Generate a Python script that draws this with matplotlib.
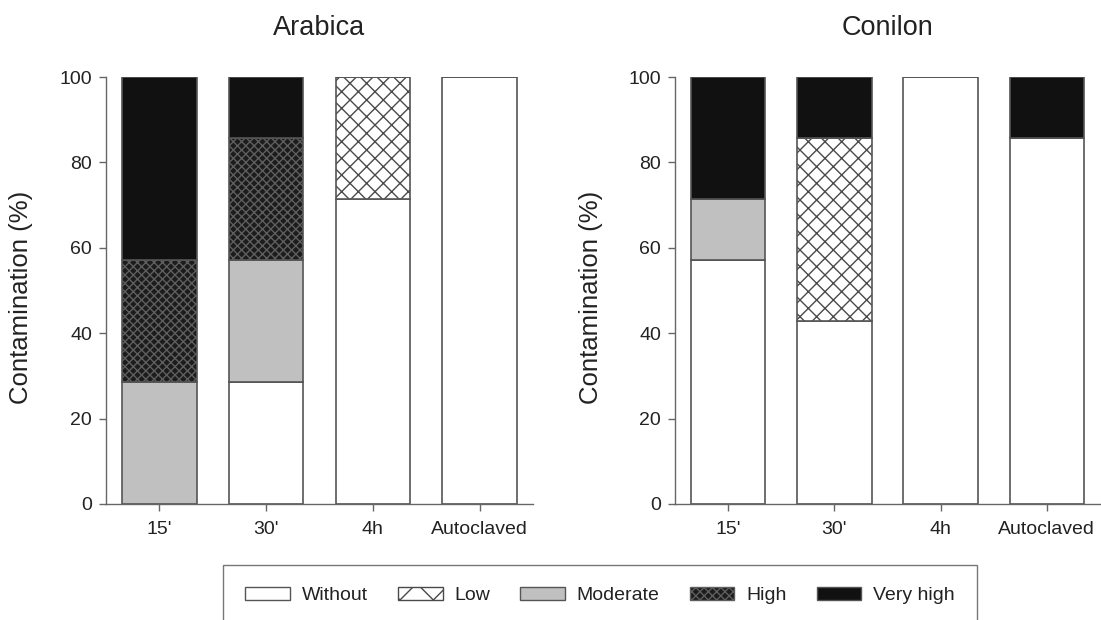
import matplotlib
matplotlib.use("Agg")
import matplotlib.pyplot as plt
from matplotlib.patches import Patch
import numpy as np

plt.rcParams['font.family'] = ['Liberation Sans', 'DejaVu Sans']
plt.rcParams['hatch.linewidth'] = 1.0

# datos (porcentaje de muestras por nivel de contaminacion)
categorias = ["15'", "30'", "4h", "Autoclaved"]
niveles = ["Without", "Low", "Moderate", "High", "Very high"]

arabica_without = [0, 28.6, 71.4, 100]
arabica_low = [0, 0, 28.6, 0]
arabica_moderate = [28.6, 28.6, 0, 0]
arabica_high = [28.6, 28.6, 0, 0]
arabica_very_high = [42.8, 14.2, 0, 0]

conilon_without = [57.1, 42.9, 100, 85.7]
conilon_low = [0, 42.9, 0, 0]
conilon_moderate = [14.3, 0, 0, 0]
conilon_high = [0, 0, 0, 0]
conilon_very_high = [28.6, 14.2, 0, 14.3]

# estilo de cada nivel: (color relleno, hatch, color hatch)
estilos = {
    "Without": ("white", "", None),
    "Low": ("white", "xx", "#4a4a4a"),
    "Moderate": ("#c0c0c0", "", None),
    "High": ("#1c1c1c", "xxxx", "#5e5e5e"),
    "Very high": ("#111111", "", None),
}
borde = "#555555"


def barras(ax, series, titulo):
    x = np.arange(len(categorias))
    base = np.zeros(len(categorias))
    for nivel, vals in zip(niveles, series):
        vals = np.array(vals, dtype=float)
        fc, hatch, hc = estilos[nivel]
        if hatch:
            ax.bar(x, vals, 0.7, bottom=base, color=fc, edgecolor=hc,
                   hatch=hatch, linewidth=0)
            ax.bar(x, vals, 0.7, bottom=base, fill=False, edgecolor=borde,
                   linewidth=1.2)
        else:
            ax.bar(x, vals, 0.7, bottom=base, color=fc, edgecolor=borde,
                   linewidth=1.2)
        base += vals
    ax.set_xlim(-0.5, 3.5)
    ax.set_ylim(0, 100)
    ax.set_xticks(x)
    ax.set_xticklabels(categorias)
    ax.set_yticks([0, 20, 40, 60, 80, 100])
    ax.spines['top'].set_visible(False)
    ax.spines['right'].set_visible(False)
    for s in ['left', 'bottom']:
        ax.spines[s].set_color('#666666')
        ax.spines[s].set_linewidth(1.0)
    ax.tick_params(axis='both', direction='out', length=5, width=1.0,
                   color='#666666', labelsize=14, labelcolor='#222222', pad=5)
    ax.tick_params(axis='x', pad=7)
    ax.set_ylabel("Contamination (%)", fontsize=18.5, color='#222222')
    ax.yaxis.set_label_coords(-0.17, 0.485)
    ax.text(0.5, 1.115, titulo, transform=ax.transAxes, ha='center',
            va='center', fontsize=19.5, color='#222222')


fig = plt.figure(figsize=(11.01, 6.2), dpi=100)
ax1 = fig.add_axes([0.0963, 0.1871, 0.3878, 0.6887])
ax2 = fig.add_axes([0.6131, 0.1871, 0.3860, 0.6887])

barras(ax1, [arabica_without, arabica_low, arabica_moderate, arabica_high,
             arabica_very_high], "Arabica")
barras(ax2, [conilon_without, conilon_low, conilon_moderate, conilon_high,
             conilon_very_high], "Conilon")

handles = []
for nivel in niveles:
    fc, hatch, hc = estilos[nivel]
    if nivel == "Low":
        hatch = "x"
    if hatch:
        handles.append(Patch(facecolor=fc, edgecolor=hc, hatch=hatch,
                             linewidth=1.0, label=nivel))
    else:
        handles.append(Patch(facecolor=fc, edgecolor=borde, linewidth=1.0,
                             label=nivel))

leg = fig.legend(handles=handles, loc='upper center', ncol=5,
                 bbox_to_anchor=(600 / 1101, 1 - 565 / 620), fontsize=14,
                 frameon=True, fancybox=False, handlelength=2.3,
                 handleheight=0.6, handletextpad=0.6, columnspacing=1.55,
                 borderpad=1.15, borderaxespad=0)
leg.get_frame().set_edgecolor('#555555')
leg.get_frame().set_linewidth(1.0)
for t in leg.get_texts():
    t.set_color('#222222')

fig.savefig("out.png", dpi=100, facecolor='white')
